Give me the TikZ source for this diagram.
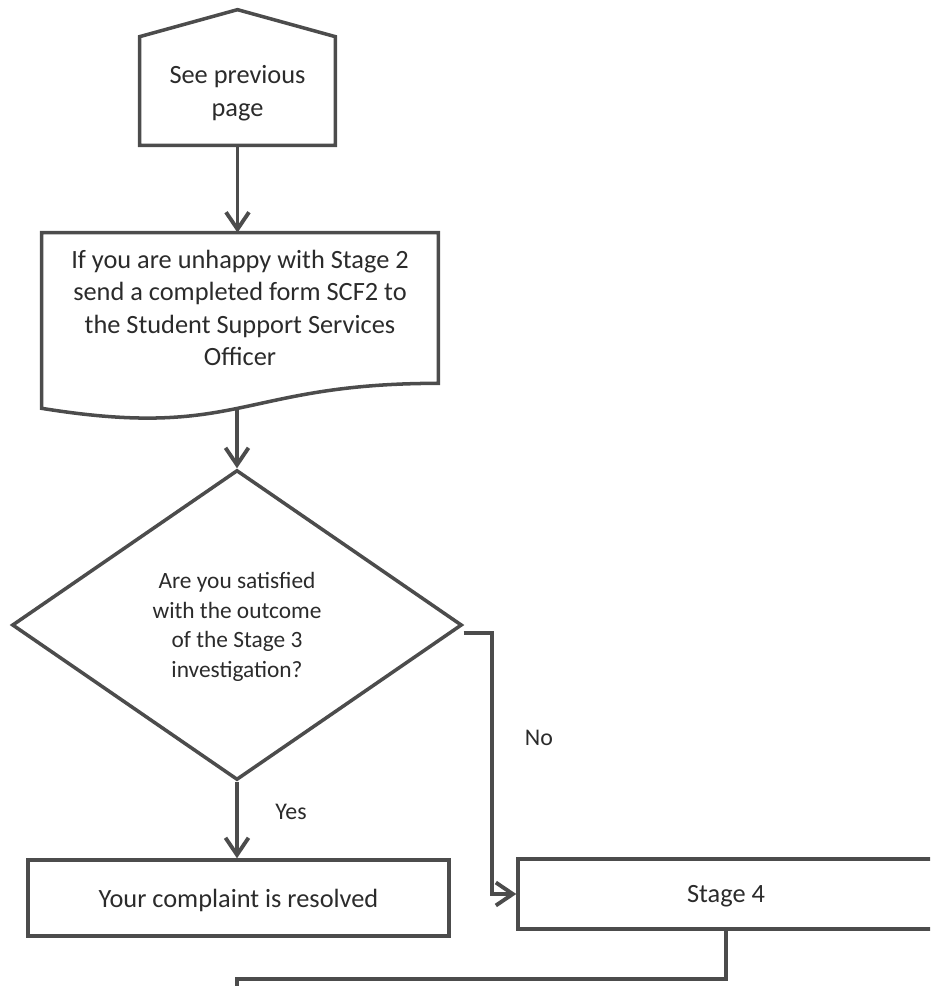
\documentclass[tikz,border=0pt]{standalone}
\usepackage{fontspec}
\setmainfont{Carlito}
\usetikzlibrary{arrows.meta}
\usetikzlibrary{shapes.geometric}

\definecolor{lineGray}{HTML}{4C4C4C}
\definecolor{textGray}{HTML}{2B2B2B}

\begin{document}
\begin{tikzpicture}[x=0.02cm, y=-0.02cm,
outline/.style={draw=lineGray, line width=2pt},
flow/.style={draw=lineGray, line width=2.2pt, -{Straight Barb[length=3.4mm,width=4.6mm]}},
txt/.style={text=textGray, align=center, inner sep=0pt, text depth=0pt, font=\fontsize{15}{18.4}\selectfont},
lbl/.style={text=textGray, font=\fontsize{13.6}{16}\selectfont}]

\def\roof{5.4mm}
\def\wave{5mm}

\clip (0,0) rectangle (930,986);

% BOXES
\node[txt, minimum width=39mm, minimum height=21.6mm] (prev) at (237.5,91) {See previous\\page};
\node[txt, minimum width=79.2mm, minimum height=30mm] (form) at (240,308)
  {If you are unhappy with Stage 2\\send a completed form SCF2 to\\the Student Support Services\\Officer};
\node[txt, shape=diamond, outline, minimum width=90mm, minimum height=62mm,
  font=\fontsize{13.3}{16.9}\selectfont] (quest) at (237,625)
  {Are you satisfied\\with the outcome\\of the Stage 3\\investigation?};
\node[txt, outline, minimum width=84.2mm, minimum height=15.2mm] (done) at (238.5,898) {Your complaint is resolved};
\node[txt, outline, minimum width=83.2mm, minimum height=14mm] (stage4) at (726,894) {Stage 4};

% off-page and document outlines
\draw[outline] (prev.south west) -- (prev.north west) -- ([yshift=\roof]prev.north)
  -- (prev.north east) -- (prev.south east) -- cycle;
\draw[outline] (form.south east) -- (form.north east) -- (form.north west) -- ([yshift=-\wave]form.south west)
  .. controls +(198,32) and +(-198,0) .. (form.south east) coordinate[pos=0.5] (formout) -- cycle;

% labels
\node[lbl] (yes) at (291,812) {Yes};
\node[lbl] (no) at (539,738) {No};

% CONNECTORS
\draw[flow] (prev.south) -- (prev.south |- form.north);
\draw[flow] (quest.north |- formout) -- (quest.north);
\draw[flow] (quest.south) -- (quest.south |- done.north);
\draw[flow] ([yshift=-1.6mm]quest.east) -- ++(28,0) |- (stage4.west);

\coordinate (next) at (237,1010);
\draw[outline] (stage4.south) -- ++(0,48) -| (next);

\end{tikzpicture}
\end{document}
